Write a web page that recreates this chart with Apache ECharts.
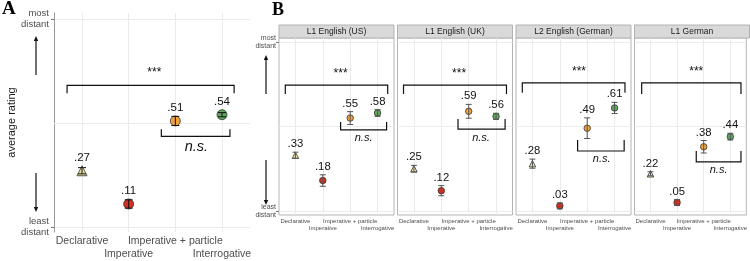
<!DOCTYPE html>
<html>
<head>
<meta charset="utf-8">
<script src="https://cdn.jsdelivr.net/npm/echarts@6/dist/echarts.min.js"></script>
<style>
html,body{margin:0;padding:0;background:#fff}
#chart{width:750px;height:261px}
</style>
</head>
<body>
<div id="chart"></div>
<script>
var categories = ['Declarative', 'Imperative', 'Imperative + particle', 'Interrogative'];
var colors = ['#eee2a0', '#d7301f', '#f2a23a', '#5ea95e'];
var symbols = ['triangle', 'circle', 'circle', 'circle'];
var yTicks = [0, 1];
var yTickLabels = ['least\ndistant', 'most\ndistant'];

// panel A
var meanA = [0.27, 0.11, 0.51, 0.54];
var errA = [0.015, 0.02, 0.022, 0.01];

// panel B, one row per facet
var facets = ['L1 English (US)', 'L1 English (UK)', 'L2 English (German)', 'L1 German'];
var meanB = [
    [0.33, 0.18, 0.55, 0.58],
    [0.25, 0.12, 0.59, 0.56],
    [0.28, 0.03, 0.49, 0.61],
    [0.22, 0.05, 0.38, 0.44]
];
var errB = [
    [0.018, 0.034, 0.038, 0.02],
    [0.02, 0.03, 0.041, 0.018],
    [0.027, 0.018, 0.061, 0.033],
    [0.012, 0.018, 0.037, 0.02]
];

// brackets: x from, x to, bar level, tip level, text, text x, text y
var bracketsA = [
    [0.68, 4.26, 0.681, 0.643, '***', 2.55, 0.743],
    [2.70, 4.17, 0.436, 0.470, 'n.s.', 3.45, 0.384]
];
var bracketsB = [
    [[0.63, 4.37, 0.745, 0.692, '***', 2.65, 0.815], [2.65, 4.33, 0.480, 0.527, 'n.s.', 3.49, 0.430]],
    [[0.62, 4.38, 0.745, 0.692, '***', 2.65, 0.815], [2.61, 4.33, 0.485, 0.545, 'n.s.', 3.45, 0.432]],
    [[0.63, 4.38, 0.758, 0.700, '***', 2.70, 0.823], [2.65, 4.35, 0.355, 0.420, 'n.s.', 3.53, 0.308]],
    [[0.67, 4.40, 0.758, 0.693, '***', 2.72, 0.823], [2.72, 4.40, 0.290, 0.355, 'n.s.', 3.56, 0.243]]
];

var FONT = '"Liberation Sans", Arial, sans-serif';
var chart = echarts.init(document.getElementById('chart'));

function fmt(v) {
    return v.toFixed(2).replace(/^0/, '');
}

function errorBars(xi, yi, means, errs, cap, color, labelSize, useErr, gap) {
    return {
        type: 'custom',
        xAxisIndex: xi,
        yAxisIndex: yi,
        z: 4,
        silent: true,
        data: means.map(function (m, j) { return [j + 1, m, errs[j]]; }),
        renderItem: function (params, api) {
            var x = api.value(0), y = api.value(1), e = api.value(2);
            var lo = api.coord([x, y - e]);
            var hi = api.coord([x, y + e]);
            var mid = api.coord([x, y]);
            var ly = (useErr ? hi[1] : mid[1]) - gap;
            var st = {stroke: color, lineWidth: 1};
            return {
                type: 'group',
                children: [
                    {type: 'line', shape: {x1: lo[0], y1: lo[1], x2: hi[0], y2: hi[1]}, style: st},
                    {type: 'line', shape: {x1: lo[0] - cap, y1: lo[1], x2: lo[0] + cap, y2: lo[1]}, style: st},
                    {type: 'line', shape: {x1: hi[0] - cap, y1: hi[1], x2: hi[0] + cap, y2: hi[1]}, style: st},
                    {type: 'text', style: {text: fmt(y), x: mid[0], y: ly, align: 'center', verticalAlign: 'middle',
                        font: labelSize + 'px ' + FONT, fill: '#111'}}
                ]
            };
        }
    };
}

function brackets(xi, yi, list, starSize, nsSize) {
    return {
        type: 'custom',
        xAxisIndex: xi,
        yAxisIndex: yi,
        z: 5,
        silent: true,
        data: list.map(function (b) { return [b[0], b[2]]; }),
        renderItem: function (params, api) {
            var b = list[params.dataIndex];
            var p1 = api.coord([b[0], b[3]]), p2 = api.coord([b[0], b[2]]);
            var p3 = api.coord([b[1], b[2]]), p4 = api.coord([b[1], b[3]]);
            var t = api.coord([b[5], b[6]]);
            var ns = b[4] !== '***';
            return {
                type: 'group',
                children: [
                    {type: 'polyline', shape: {points: [p1, p2, p3, p4]}, style: {stroke: '#111', lineWidth: 1.2, fill: 'none'}},
                    {type: 'text', style: {text: b[4], x: t[0], y: t[1], align: 'center', verticalAlign: 'middle',
                        font: (ns ? 'italic ' : '') + (ns ? nsSize : starSize) + 'px ' + FONT, fill: '#111'}}
                ]
            };
        }
    };
}

function points(xi, yi, means, size) {
    return {
        type: 'scatter',
        xAxisIndex: xi,
        yAxisIndex: yi,
        z: 3,
        symbolSize: size,
        itemStyle: {borderColor: '#333', borderWidth: 0.8, opacity: 1},
        data: means.map(function (m, j) {
            return {value: [j + 1, m], symbol: symbols[j], itemStyle: {color: colors[j]}};
        })
    };
}

function midLine(xi, yi) {
    return {
        type: 'line', xAxisIndex: xi, yAxisIndex: yi, data: [], z: 1, silent: true,
        markLine: {silent: true, symbol: 'none', z: 1, animation: false, label: {show: false},
            lineStyle: {color: '#ebebeb', type: 'solid', width: 1}, data: [{yAxis: 0.5}]}
    };
}

function catLabel(v) {
    return categories[Math.round(v) - 1];
}

var grids = [{left: 54, top: 13, width: 196, height: 220}];
var xAxes = [], yAxes = [], series = [], graphics = [];
for (var i = 0; i < 4; i++) {
    grids.push({left: 279 + i * 118.5, top: 38, width: 115, height: 177, show: true,
        borderColor: '#b3b3b3', borderWidth: 1, backgroundColor: 'transparent'});
}

for (var g = 0; g < 5; g++) {
    var isA = g === 0;
    var fs = isA ? 10.5 : 6, lh = isA ? 13 : 7, mg = isA ? 3 : 2.5;
    // odd categories on the first row, with the vertical grid lines
    xAxes.push({
        type: 'value', gridIndex: g, min: 0.4, max: 4.6, position: 'bottom',
        axisLine: {show: false},
        axisTick: {show: false, customValues: [1, 2, 3, 4]},
        axisLabel: {customValues: [1, 3], formatter: catLabel, color: '#4d4d4d',
            fontFamily: FONT, fontSize: fs, lineHeight: lh, margin: mg},
        splitLine: {show: true, lineStyle: {color: '#ebebeb', width: 1}}
    });
    // even categories one row lower
    xAxes.push({
        type: 'value', gridIndex: g, min: 0.4, max: 4.6, position: 'bottom', offset: 0,
        axisLine: {show: false},
        axisTick: {show: false, customValues: [2, 4]},
        axisLabel: {customValues: [2, 4], formatter: catLabel, color: '#4d4d4d',
            fontFamily: FONT, fontSize: fs, lineHeight: lh, margin: mg + lh},
        splitLine: {show: false}
    });
    yAxes.push({
        type: 'value', gridIndex: g,
        min: isA ? -0.025 : -0.024, max: isA ? 1.03 : 1.024,
        name: isA ? 'average rating' : '',
        nameLocation: 'middle', nameRotate: 90, nameGap: 36,
        nameTextStyle: {fontFamily: FONT, fontSize: 11, color: '#1a1a1a'},
        axisLine: {show: isA, lineStyle: {color: '#9a9a9a', width: 1}},
        axisTick: {show: g <= 1, customValues: yTicks, length: 3, lineStyle: {color: '#777'}},
        axisLabel: {
            show: g <= 1, customValues: yTicks,
            formatter: function (v) { return yTickLabels[yTicks.indexOf(Math.round(v))]; },
            color: '#4d4d4d', fontFamily: FONT, align: 'right',
            fontSize: isA ? 9.5 : 7, lineHeight: isA ? 11 : 8, margin: isA ? 5 : 3
        },
        splitLine: {show: true, lineStyle: {color: '#ebebeb', width: 1}}
    });
    var xi = 2 * g;
    series.push(midLine(xi, g));
    if (isA) {
        series.push(points(xi, g, meanA, 10));
        series.push(errorBars(xi, g, meanA, errA, 4, '#111', 11.5, false, 13));
        series.push(brackets(xi, g, bracketsA, 12, 14.5));
    } else {
        series.push(points(xi, g, meanB[g - 1], 6.5));
        series.push(errorBars(xi, g, meanB[g - 1], errB[g - 1], 3, '#555', 11.3, true, 8));
        series.push(brackets(xi, g, bracketsB[g - 1], 12, 11));
    }
}

// facet strips
for (var f = 0; f < 4; f++) {
    var gl = grids[f + 1].left;
    graphics.push({type: 'rect', shape: {x: gl, y: 25, width: 115, height: 13},
        style: {fill: '#d9d9d9', stroke: '#b3b3b3', lineWidth: 1}});
    graphics.push({type: 'text', style: {text: facets[f], x: gl + 57.5, y: 31.5, align: 'center',
        verticalAlign: 'middle', font: '8.5px ' + FONT, fill: '#1a1a1a'}});
}

function arrow(x, from, to) {
    var dir = to < from ? 1 : -1;
    return {type: 'group', children: [
        {type: 'line', shape: {x1: x, y1: from, x2: x, y2: to + dir * 3}, style: {stroke: '#111', lineWidth: 1.2}},
        {type: 'polygon', shape: {points: [[x, to], [x - 2.2, to + dir * 5], [x + 2.2, to + dir * 5]]}, style: {fill: '#111'}}
    ]};
}
graphics.push(arrow(36, 75, 36), arrow(36, 173, 212), arrow(266, 94, 55), arrow(266, 160, 205));
graphics.push({type: 'text', style: {text: 'A', x: 2, y: 9, verticalAlign: 'middle',
    font: 'bold 19px "Liberation Serif", serif', fill: '#000'}});
graphics.push({type: 'text', style: {text: 'B', x: 272, y: 10.5, verticalAlign: 'middle',
    font: 'bold 18px "Liberation Serif", serif', fill: '#000'}});

chart.setOption({
    animation: false,
    backgroundColor: '#fff',
    grid: grids,
    xAxis: xAxes,
    yAxis: yAxes,
    series: series,
    graphic: graphics
});
</script>
</body>
</html>
